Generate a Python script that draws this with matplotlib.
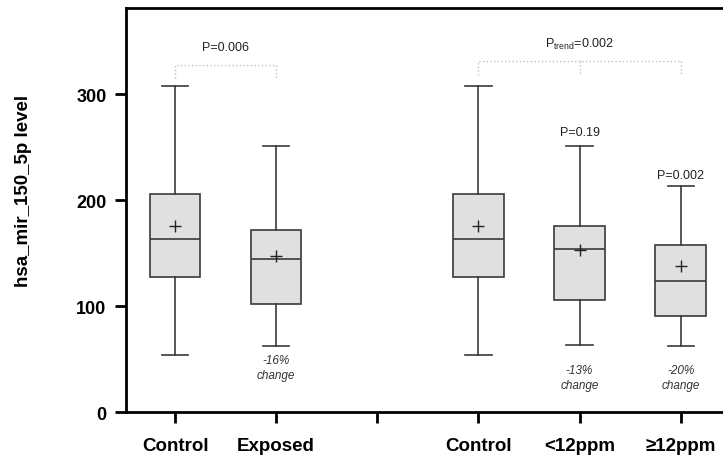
import matplotlib
matplotlib.use("Agg")
import matplotlib.pyplot as plt

plt.rcParams['font.family'] = ['Liberation Sans', 'DejaVu Sans']
plt.rcParams['mathtext.default'] = 'regular'

# box stats
groups = ["Control", "Exposed", "", "Control", "<12ppm", "\u226512ppm"]
positions = [0, 1, 3, 4, 5]
whislo = [54, 62, 54, 63, 62]
q1 = [127, 102, 127, 106, 91]
med = [163, 144, 163, 154, 124]
q3 = [206, 172, 206, 176, 158]
whishi = [308, 251, 308, 251, 213]
means = [176, 147, 176, 153, 138]

change_pos = [1, 4, 5]
change_txt = ["-16%", "-13%", "-20%"]
change_y = [49, 40, 40]


def build_stats():
    stats = []
    for i in range(len(positions)):
        stats.append(dict(whislo=whislo[i], q1=q1[i], med=med[i], q3=q3[i],
                          whishi=whishi[i], mean=means[i], fliers=[]))
    return stats


fig = plt.figure(figsize=(7.23, 4.6), dpi=100)
ax = fig.add_axes([0.1743, 0.102, 0.835, 0.878])

edge = "#3a3a3a"
ax.bxp(build_stats(), positions=positions, widths=0.5, showmeans=True,
       patch_artist=True, showfliers=False,
       boxprops=dict(facecolor="#e0e0e0", edgecolor=edge, linewidth=1.2),
       medianprops=dict(color=edge, linewidth=1.2),
       whiskerprops=dict(color=edge, linewidth=1.2),
       capprops=dict(color=edge, linewidth=1.2),
       capwidths=0.26,
       meanprops=dict(marker="+", markeredgecolor="#222222", markersize=9,
                      markeredgewidth=1.0))

ax.set_xlim(-0.485, 5.485)
ax.set_ylim(0, 381)
ax.set_yticks([0, 100, 200, 300])
ax.set_xticks(range(len(groups)))
ax.set_xticklabels(groups, fontsize=13.5, fontweight="bold")
for lab in ax.get_yticklabels():
    lab.set_fontsize(13)
    lab.set_fontweight("bold")

for s in ["left", "bottom", "top"]:
    ax.spines[s].set_linewidth(2)
ax.spines["right"].set_visible(False)
ax.tick_params(axis="both", direction="out", length=8, width=2, pad=6)
ax.tick_params(axis="x", pad=10)

ax.set_ylabel("hsa_mir_150_5p level", fontsize=13.5, fontweight="bold")
ax.yaxis.set_label_coords(-0.155, 0.55)

# significance brackets
dot = dict(color="#c0c0c0", linestyle=":", linewidth=1)
ax.plot([0, 0, 1, 1], [315, 327, 327, 315], **dot)
ax.plot([3, 3, 5, 5], [318, 331, 331, 318], **dot)
ax.plot([4, 4], [331, 318], **dot)

ax.text(0.5, 344, "P=0.006", ha="center", va="center", fontsize=9, color="#222222")
ax.text(4, 348, r"P$_{trend}$=0.002", ha="center", va="center", fontsize=9,
        color="#222222")
ax.text(4, 264, "P=0.19", ha="center", va="center", fontsize=9, color="#222222")
ax.text(5, 224, "P=0.002", ha="center", va="center", fontsize=9, color="#222222")

for x, t, y in zip(change_pos, change_txt, change_y):
    ax.text(x, y, t, ha="center", va="center", fontsize=8.5, style="italic",
            color="#333333")
    ax.text(x, y - 14, "change", ha="center", va="center", fontsize=8.5,
            style="italic", color="#333333")

fig.savefig("out.png", dpi=100)
